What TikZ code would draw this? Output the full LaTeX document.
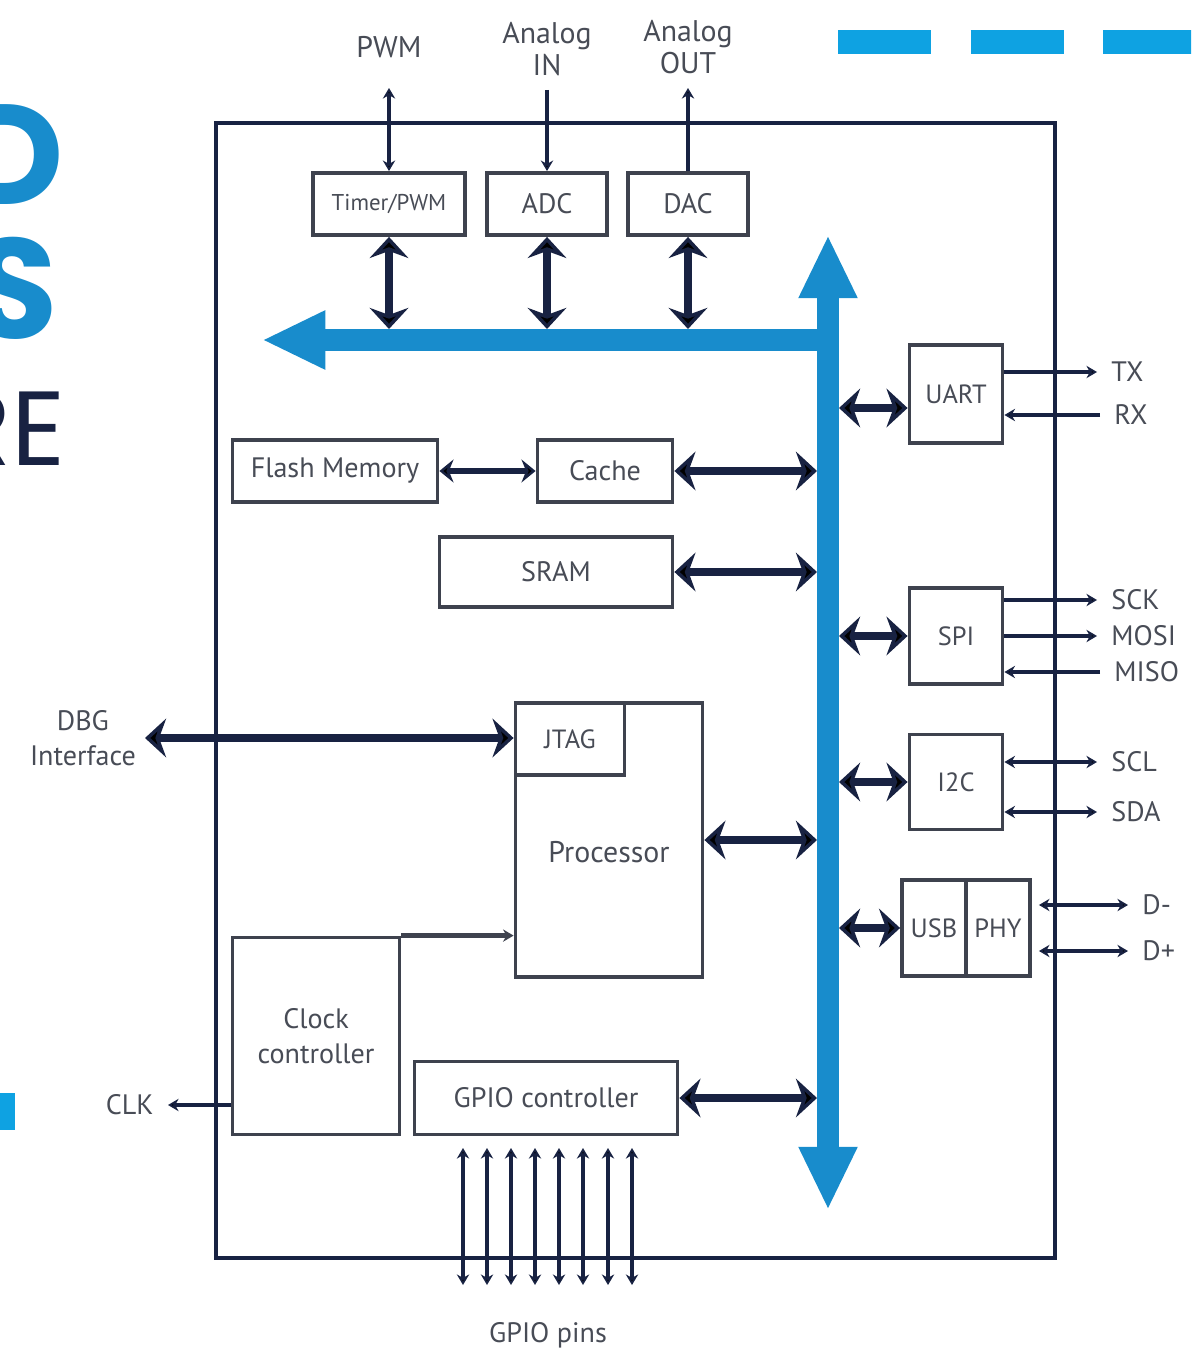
\documentclass[tikz,border=0pt]{standalone}
\usepackage{fontspec}
\setmainfont{PT Sans}
\newfontfamily\headfont{Poppins}
\usetikzlibrary{arrows.meta}

\definecolor{navy}{RGB}{24,34,66}
\definecolor{boxline}{RGB}{62,66,78}
\definecolor{txtgray}{RGB}{72,76,86}
\definecolor{busblue}{RGB}{24,140,204}
\definecolor{lightblue}{RGB}{14,162,226}

\begin{document}
\begin{tikzpicture}[x=0.02cm,y=-0.02cm,
		blk/.style={draw=boxline,line width=2.2pt,fill=white,text=txtgray,inner sep=0pt,font=\fontsize{16}{19}\selectfont},
		lbl/.style={text=txtgray,inner sep=0pt,font=\fontsize{16}{20}\selectfont,align=center},
		pinlbl/.style={lbl,anchor=west,inner xsep=8pt},
		toplbl/.style={lbl,anchor=south,font=\fontsize{17}{18}\selectfont},
		pin/.style={draw=navy,line width=2pt,>={Stealth[length=6pt,width=7pt]}},
		thinlink/.style={draw=navy,line width=3pt,>={Stealth[length=8pt,width=13pt]}},
		link/.style={draw=navy,line width=5pt,>={Stealth[length=12pt,width=22pt,inset=4pt]}},
		bus/.style={draw=busblue,line width=12.5pt,>={Triangle[length=36pt,width=31pt]}}]
		\useasboundingbox (0,0) rectangle (1191,1354);
		\clip (0,0) rectangle (1191,1354);
		
		% title (cut off)
		\node[anchor=base east,inner sep=0pt,text=busblue,font=\headfont\bfseries\fontsize{81}{81}\selectfont] (tD) at (64,205) {D};
		\node[anchor=base east,inner sep=0pt,text=busblue,font=\headfont\bfseries\fontsize{81}{81}\selectfont] (tS) at (58,338) {S};
		\node[anchor=base east,inner sep=0pt,text=navy,font=\headfont\fontsize{60}{60}\selectfont] (tRE) at (66,465) {RE};
		\fill[lightblue] (-5,1093) rectangle (15,1130);
		\draw[lightblue,line width=13.6pt,dash pattern=on 53pt off 22.5pt] (838,42) -- (1220,42);
		
		% chip
		\draw[navy,line width=2.4pt] (216,123) rectangle (1055,1258);
		
		% analog / timer
		\node[blk,minimum width=3.04cm,minimum height=1.24cm,font=\fontsize{13}{15}\selectfont] (tim) at (389,204) {Timer/PWM};
		\node[blk,minimum width=2.4cm,minimum height=1.24cm] (adc) at (547,204) {ADC};
		\node[blk,minimum width=2.4cm,minimum height=1.24cm] (dac) at (688,204) {DAC};
		\node[toplbl,inner ysep=17pt] (pwm) at (389,88) {PWM};
		\node[toplbl,inner ysep=8pt] (ain) at (547,90) {Analog\\IN};
		\node[toplbl,inner ysep=8pt] (aout) at (688,88) {Analog\\OUT};
		
		% memory
		\node[blk,minimum width=4.1cm,minimum height=1.24cm] (flash) at (335,471) {Flash Memory};
		\node[blk,minimum width=2.7cm,minimum height=1.24cm] (cache) at (605,471) {Cache};
		\node[blk,minimum width=4.66cm,minimum height=1.4cm] (sram) at (556,572) {SRAM};
		
		% processor
		\node[blk,minimum width=3.74cm,minimum height=5.48cm,label={[lbl,yshift=-7pt,font=\fontsize{17}{20}\selectfont]center:Processor}] (proc) at (609,840) {};
		\node[blk,anchor=north west,minimum width=2.18cm,minimum height=1.44cm,font=\fontsize{15}{18}\selectfont] (jtag) at (proc.north west) {JTAG};
		\node[lbl,anchor=east,inner xsep=5pt] (dbg) at (145,738) {DBG\\Interface};
		
		% clock, gpio
		\node[blk,minimum width=3.34cm,minimum height=3.94cm,align=center,font=\fontsize{16}{20}\selectfont] (clock) at (316,1036) {Clock\\controller};
		\node[lbl,anchor=east,inner xsep=8pt] (clk) at (168,1105) {CLK};
		\node[blk,minimum width=5.26cm,minimum height=1.46cm] (gpio) at (546,1098) {GPIO controller};
		\node[lbl] (gpins) at (548,1335) {GPIO pins};
		
		% peripherals
		\node[blk,minimum width=1.86cm,minimum height=1.96cm,font=\fontsize{15}{18}\selectfont] (uart) at (956,394) {UART};
		\node[blk,minimum width=1.86cm,minimum height=1.92cm,font=\fontsize{15}{18}\selectfont] (spi) at (956,636) {SPI};
		\node[blk,minimum width=1.86cm,minimum height=1.9cm,font=\fontsize{15}{18}\selectfont] (i2c) at (956,782) {I2C};
		\node[blk,minimum width=1.28cm,minimum height=1.92cm,font=\fontsize{15}{18}\selectfont] (usb) at (934,928) {USB};
		\node[blk,anchor=west,minimum width=1.28cm,minimum height=1.92cm,font=\fontsize{15}{18}\selectfont] (phy) at ([xshift=-2.2pt]usb.east) {PHY};
		\node[pinlbl] (tx) at (1097,372) {TX};
		\node[pinlbl] (rx) at (1100,415) {RX};
		\node[pinlbl] (sck) at (1097,600) {SCK};
		\node[pinlbl] (mosi) at (1097,636) {MOSI};
		\node[pinlbl] (miso) at (1100,672) {MISO};
		\node[pinlbl] (scl) at (1097,762) {SCL};
		\node[pinlbl] (sda) at (1097,812) {SDA};
		\node[pinlbl] (dm) at (1128,905) {D-};
		\node[pinlbl] (dp) at (1128,951) {D+};
		
		% bus points
		\coordinate (bt) at (0,329);
		\coordinate (bl) at (817,0);
		\coordinate (br) at (839,0);
		\coordinate (u0) at (839,408);
		\coordinate (bustop) at (828,235);
		\coordinate (busbot) at (828,1210);
		\coordinate (busjoin) at (828,340);
		\coordinate (busleft) at (262,340);
		\coordinate (gtop) at (0,1148);
		\coordinate (p1) at (463,1285);
		\coordinate (p2) at (487,1285);
		\coordinate (p3) at (511,1285);
		\coordinate (p4) at (535,1285);
		\coordinate (p5) at (559,1285);
		\coordinate (p6) at (583,1285);
		\coordinate (p7) at (608,1285);
		\coordinate (p8) at (632,1285);
		
		% signal lines
		\path[pin]
		(tim) edge[<->] (pwm)
		(ain) edge[->] (adc)
		(dac) edge[->] (aout)
		(uart.east |- tx) edge[->] (tx)
		(rx) edge[->] (uart.east |- rx)
		(spi.east |- sck) edge[->] (sck)
		(spi.east |- mosi) edge[->] (mosi)
		(miso) edge[->] (spi.east |- miso)
		(i2c.east |- scl) edge[<->] (scl)
		(i2c.east |- sda) edge[<->] (sda)
		(phy.east |- dm) edge[<->, shorten <=4pt] (dm)
		(phy.east |- dp) edge[<->, shorten <=4pt] (dp)
		(clock.north east) edge[->, draw=boxline, line width=2.6pt] (clock.north east -| proc.west)
		(clock.west |- clk) edge[->] (clk)
		% gpio pins
		(gtop -| p1) edge[<->] (p1)
		(gtop -| p2) edge[<->] (p2)
		(gtop -| p3) edge[<->] (p3)
		(gtop -| p4) edge[<->] (p4)
		(gtop -| p5) edge[<->] (p5)
		(gtop -| p6) edge[<->] (p6)
		(gtop -| p7) edge[<->] (p7)
		(gtop -| p8) edge[<->] (p8);
		
		\path[thinlink] (flash) edge[<->] (cache);
		
		% bus links
		\path[link]
		(tim) edge[<->] (tim.south |- bt)
		(adc) edge[<->] (adc.south |- bt)
		(dac) edge[<->] (dac.south |- bt)
		(cache) edge[<->] (cache -| bl)
		(sram) edge[<->] (sram -| bl)
		(proc) edge[<->] (proc -| bl)
		(gpio) edge[<->] (gpio -| bl)
		(u0) edge[<->] (u0 -| uart.west)
		(spi -| br) edge[<->] (spi)
		(i2c -| br) edge[<->] (i2c)
		(usb -| br) edge[<->] (usb)
		(dbg) edge[<->] (dbg -| jtag.west);
		
		% bus
		\draw[bus,->] (busjoin) -- (busleft);
		\draw[bus,<->] (busbot) -- (bustop);
		
\end{tikzpicture}
\end{document}
